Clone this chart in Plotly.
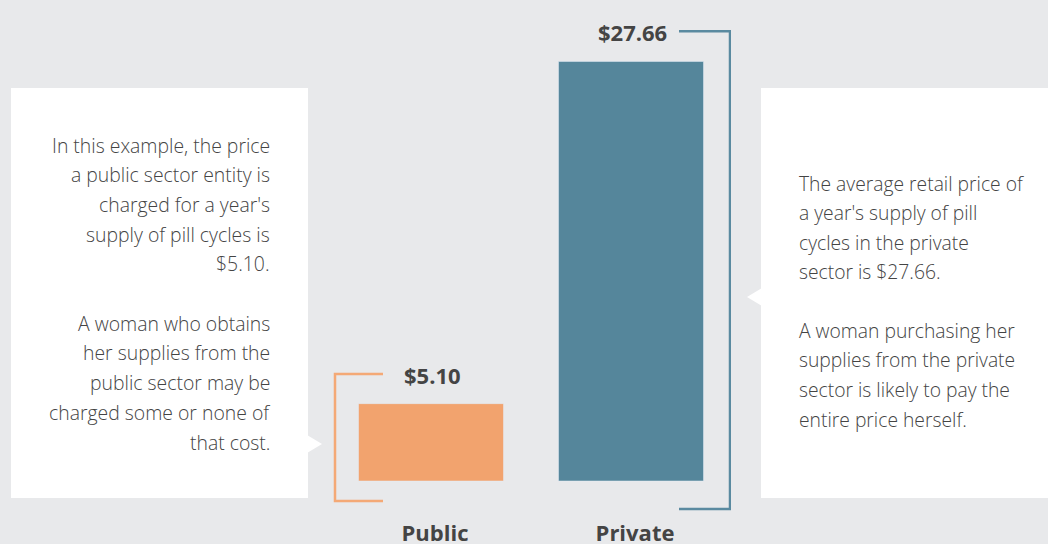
import plotly.graph_objects as go

# data
sectors = ["Public", "Private"]
prices = [5.10, 27.66]
price_labels = ["$5.10", "$27.66"]
bar_colors = ["#f2a36e", "#55869b"]
bracket_colors = ["#f4a976", "#5a8aa0"]

left_lines = [
    "In this example, the price",
    "a public sector entity is",
    "charged for a year's",
    "supply of pill cycles is",
    "$5.10.",
    "",
    "A woman who obtains",
    "her supplies from the",
    "public sector may be",
    "charged some or none of",
    "that cost.",
]
right_lines = [
    "The average retail price of",
    "a year's supply of pill",
    "cycles in the private",
    "sector is $27.66.",
    "",
    "A woman purchasing her",
    "supplies from the private",
    "sector is likely to pay the",
    "entire price herself.",
]

W, H = 1048, 544
ML, MR, MT, MB = 331, 317, 26, 30
PW, PH = W - ML - MR, H - MT - MB
YMAX = 30
YMIN = YMAX - PH / ((H - 63 - MT) / YMAX)  # keep zero line at y=481px
BG = "#e8e9eb"
TXT = "#444444"


def px_x(p):
    return (p - ML) / PW


def px_y(p):
    return (H - MB - p) / PH


fig = go.Figure(go.Bar(
    x=sectors, y=prices, marker_color=bar_colors, width=0.725,
    hoverinfo="skip",
))

shapes = []
# white callout boxes
shapes.append(dict(type="rect", xref="paper", yref="paper",
                   x0=px_x(11), x1=px_x(308), y0=px_y(498), y1=px_y(88),
                   fillcolor="white", line_width=0, layer="below"))
shapes.append(dict(type="rect", xref="paper", yref="paper",
                   x0=px_x(761), x1=px_x(1060), y0=px_y(498), y1=px_y(88),
                   fillcolor="white", line_width=0, layer="below"))
# callout pointers
shapes.append(dict(type="path", xref="paper", yref="paper",
                   path=f"M {px_x(307)} {px_y(435)} L {px_x(322)} {px_y(444)} L {px_x(307)} {px_y(453)} Z",
                   fillcolor="white", line_width=0, layer="below"))
shapes.append(dict(type="path", xref="paper", yref="paper",
                   path=f"M {px_x(762)} {px_y(288)} L {px_x(747)} {px_y(297)} L {px_x(762)} {px_y(306)} Z",
                   fillcolor="white", line_width=0, layer="below"))

# brackets
pub, pri = prices
shapes.append(dict(type="path", xref="x", yref="y",
                   path=f"M -0.24 {pub + 1.95} L -0.48 {pub + 1.95} L -0.48 -1.32 L -0.24 -1.32",
                   line=dict(color=bracket_colors[0], width=2.5)))
shapes.append(dict(type="path", xref="x", yref="y",
                   path=f"M 1.24 {pri + 2.0} L 1.495 {pri + 2.0} L 1.495 -1.85 L 1.24 -1.85",
                   line=dict(color=bracket_colors[1], width=2.5)))

annotations = []
for s, v, lab in zip(sectors, prices, price_labels):
    annotations.append(dict(x=s, y=v, text=f"<b>{lab}</b>", showarrow=False,
                            yanchor="middle", yshift=29, xshift=1,
                            font=dict(family="Open Sans", size=22, color=TXT)))

for i, line in enumerate(left_lines):
    if line:
        annotations.append(dict(xref="paper", yref="paper", x=px_x(272), y=px_y(145 + i * 29.7),
                                text=line, showarrow=False, xanchor="right", yanchor="middle",
                                font=dict(family="Open Sans", size=19.4, color=TXT, weight=300)))
for i, line in enumerate(right_lines):
    if line:
        annotations.append(dict(xref="paper", yref="paper", x=px_x(797), y=px_y(183 + i * 29.5),
                                text=line, showarrow=False, xanchor="left", yanchor="middle",
                                font=dict(family="Open Sans", size=19.3, color=TXT, weight=300)))

fig.update_layout(
    width=W, height=H,
    margin=dict(l=ML, r=MR, t=MT, b=MB),
    paper_bgcolor=BG, plot_bgcolor=BG,
    showlegend=False,
    shapes=shapes,
    annotations=annotations,
)
fig.update_xaxes(range=[-0.5, 1.5], showgrid=False, showline=False, zeroline=False,
                 ticks="", ticklabelstandoff=4, ticklabelshift=4, automargin=False,
                 tickfont=dict(family="Open Sans", size=22, color=TXT, weight="bold"))
fig.update_yaxes(range=[YMIN, YMAX], visible=False, showgrid=False, zeroline=False,
                 automargin=False)

fig.write_html("out.html", config={"displayModeBar": False},
               post_script="document.body.style.margin='0';document.body.style.background='#e8e9eb';")
